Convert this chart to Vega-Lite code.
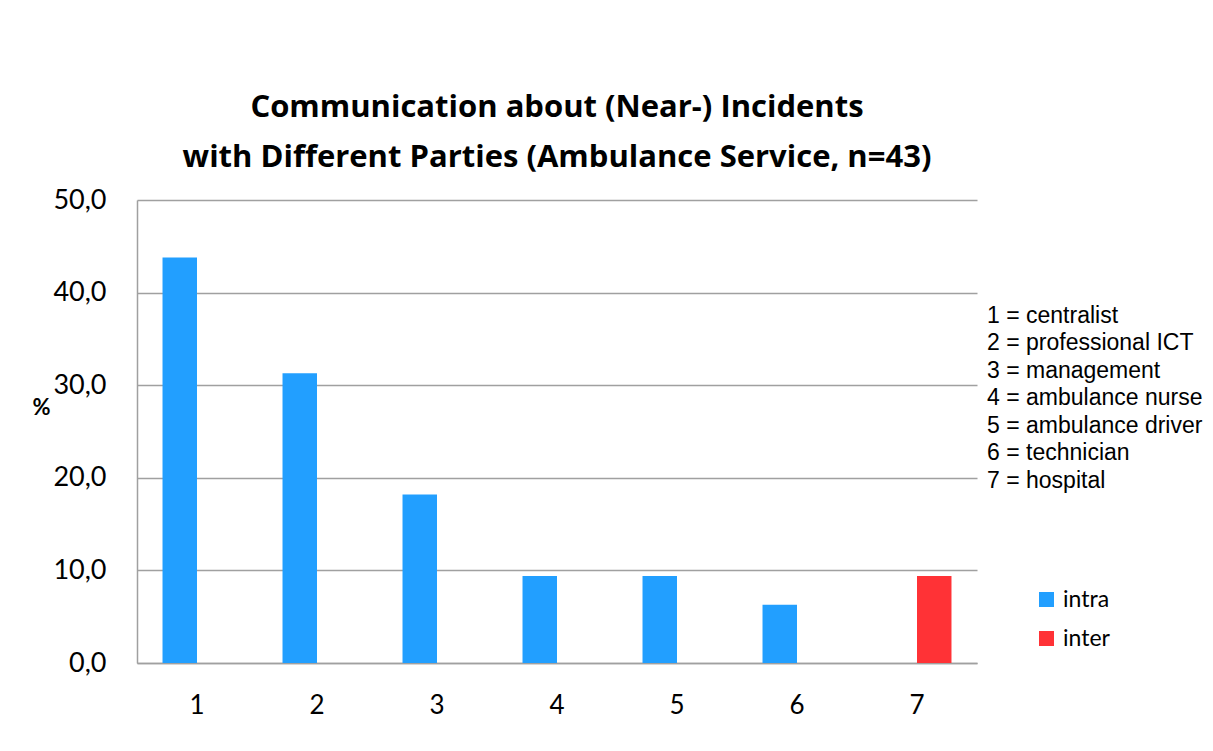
{
  "$schema": "https://vega.github.io/schema/vega-lite/v6.json",
  "width": 840,
  "height": 463,
  "autosize": {"type": "none"},
  "padding": {"left": 137, "top": 200, "right": 236, "bottom": 88},
  "background": "white",
  "title": {
    "text": ["Communication about (Near-) Incidents", "with Different Parties (Ambulance Service, n=43)"],
    "font": "Open Sans",
    "fontSize": 31,
    "fontWeight": "bold",
    "color": "black",
    "lineHeight": 50,
    "anchor": "middle",
    "frame": "group",
    "offset": 12
  },
  "data": {
    "values": [
      {"party": "1", "label": "1 = centralist", "series": "intra", "pct": 43.8},
      {"party": "2", "label": "2 = professional ICT", "series": "intra", "pct": 31.3},
      {"party": "3", "label": "3 = management", "series": "intra", "pct": 18.2},
      {"party": "4", "label": "4 = ambulance nurse", "series": "intra", "pct": 9.4},
      {"party": "5", "label": "5 = ambulance driver", "series": "intra", "pct": 9.4},
      {"party": "6", "label": "6 = technician", "series": "intra", "pct": 6.3},
      {"party": "7", "label": "7 = hospital", "series": "inter", "pct": 9.4}
    ]
  },
  "encoding": {
    "x": {
      "field": "party",
      "type": "nominal",
      "sort": null,
      "scale": {"paddingInner": 0, "paddingOuter": 0},
      "axis": {
        "title": null,
        "labelAngle": 0,
        "labelFont": "Lato",
        "labelFontSize": 26,
        "labelColor": "black",
        "labelPadding": 29,
        "ticks": false,
        "domainColor": "#a0a0a0",
        "domainWidth": 1.5,
        "grid": false
      }
    },
    "y": {
      "field": "pct",
      "type": "quantitative",
      "scale": {"domain": [0, 50], "nice": false},
      "axis": {
        "values": [0, 10, 20, 30, 40, 50],
        "labelExpr": "replace(format(datum.value, '.1f'), '.', ',')",
        "labelFont": "Lato",
        "labelFontSize": 27,
        "labelColor": "black",
        "labelPadding": 31,
        "ticks": false,
        "domainColor": "#a0a0a0",
        "domainWidth": 1.5,
        "gridColor": "#a0a0a0",
        "gridWidth": 1.5,
        "title": "%",
        "titleAngle": 0,
        "titleFont": "Lato",
        "titleFontSize": 22,
        "titleFontWeight": "bold",
        "titleColor": "black",
        "titleX": -96,
        "titleY": 207,
        "titleAlign": "center",
        "titleBaseline": "middle"
      }
    }
  },
  "layer": [
    {
      "mark": {"type": "bar"},
      "encoding": {
        "xOffset": {
          "field": "series",
          "type": "nominal",
          "scale": {"domain": ["intra", "inter"], "paddingOuter": 0.74, "paddingInner": 0}
        },
        "color": {
          "field": "series",
          "type": "nominal",
          "scale": {"domain": ["intra", "inter"], "range": ["#229fff", "#ff3236"]},
          "legend": {
            "title": null,
            "orient": "none",
            "legendX": 898,
            "legendY": 388,
            "symbolType": "square",
            "symbolSize": 225,
            "symbolStrokeWidth": 0,
            "labelFont": "Lato",
            "labelFontSize": 23,
            "labelColor": "black",
            "labelOffset": 5,
            "rowPadding": 15
          }
        }
      }
    },
    {
      "mark": {"type": "point", "opacity": 0},
      "encoding": {
        "shape": {
          "field": "label",
          "type": "nominal",
          "legend": {
            "title": null,
            "orient": "none",
            "legendX": 827,
            "legendY": 104,
            "symbolSize": 0,
            "symbolOpacity": 0,
            "symbolStrokeWidth": 0,
            "labelOffset": 0,
            "labelLimit": 400,
            "labelFont": "Liberation Sans",
            "labelFontSize": 23,
            "labelColor": "black",
            "rowPadding": 3.5
          }
        }
      }
    }
  ],
  "config": {
    "view": {"stroke": null}
  }
}
